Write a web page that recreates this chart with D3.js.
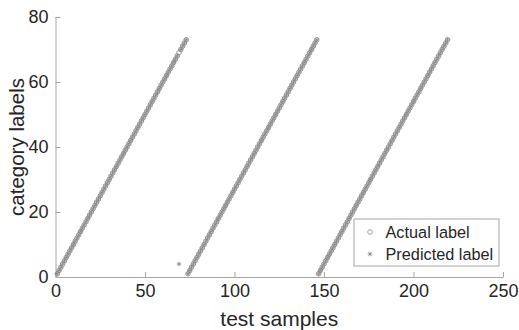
<!DOCTYPE html>
<html>
<head>
<meta charset="utf-8">
<script src="https://cdn.jsdelivr.net/npm/d3@7"></script>
<style>
  body { margin: 0; background: #fff; }
  text { font-family: "Liberation Sans", Arial, sans-serif; fill: #262626; }
</style>
</head>
<body>
<div id="chart"></div>
<script>
// actual class label of each test sample (sample number = position + 1)
const actualLabels = [
  1,2,3,4,5,6,7,8,9,10,11,12,13,14,15,16,17,18,19,20,21,22,23,24,25,26,27,28,29,30,31,32,33,34,35,36,37,
  38,39,40,41,42,43,44,45,46,47,48,49,50,51,52,53,54,55,56,57,58,59,60,61,62,63,64,65,66,67,68,69,70,71,72,73,
  1,2,3,4,5,6,7,8,9,10,11,12,13,14,15,16,17,18,19,20,21,22,23,24,25,26,27,28,29,30,31,32,33,34,35,36,37,
  38,39,40,41,42,43,44,45,46,47,48,49,50,51,52,53,54,55,56,57,58,59,60,61,62,63,64,65,66,67,68,69,70,71,72,73,
  1,2,3,4,5,6,7,8,9,10,11,12,13,14,15,16,17,18,19,20,21,22,23,24,25,26,27,28,29,30,31,32,33,34,35,36,37,
  38,39,40,41,42,43,44,45,46,47,48,49,50,51,52,53,54,55,56,57,58,59,60,61,62,63,64,65,66,67,68,69,70,71,72,73
];
// predicted labels (sample 69 is misclassified as 4)
const predictedLabels = [
  1,2,3,4,5,6,7,8,9,10,11,12,13,14,15,16,17,18,19,20,21,22,23,24,25,26,27,28,29,30,31,32,33,34,35,36,37,
  38,39,40,41,42,43,44,45,46,47,48,49,50,51,52,53,54,55,56,57,58,59,60,61,62,63,64,65,66,67,68,4,70,71,72,73,
  1,2,3,4,5,6,7,8,9,10,11,12,13,14,15,16,17,18,19,20,21,22,23,24,25,26,27,28,29,30,31,32,33,34,35,36,37,
  38,39,40,41,42,43,44,45,46,47,48,49,50,51,52,53,54,55,56,57,58,59,60,61,62,63,64,65,66,67,68,69,70,71,72,73,
  1,2,3,4,5,6,7,8,9,10,11,12,13,14,15,16,17,18,19,20,21,22,23,24,25,26,27,28,29,30,31,32,33,34,35,36,37,
  38,39,40,41,42,43,44,45,46,47,48,49,50,51,52,53,54,55,56,57,58,59,60,61,62,63,64,65,66,67,68,69,70,71,72,73
];
const xTicks = [0, 50, 100, 150, 200, 250];
const yTicks = [0, 20, 40, 60, 80];
const legendNames = ["Actual label", "Predicted label"];

const width = 519, height = 330;
const margin = { top: 17, right: 16, bottom: 53, left: 55.5 };

const svg = d3.select("#chart")
  .append("svg")
  .attr("width", width)
  .attr("height", height);

const x = d3.scaleLinear().domain([0, 250]).range([margin.left, width - margin.right]);
const y = d3.scaleLinear().domain([0, 80]).range([height - margin.bottom, margin.top]);

const axisColor = "#a6a6a6";
const markColor = "#888";

// x axis, ticks pointing inward
const gx = svg.append("g")
  .attr("transform", `translate(0,${y(0)})`)
  .call(d3.axisBottom(x).tickValues(xTicks).tickSizeInner(-5).tickSizeOuter(0).tickPadding(7));
gx.select(".domain").attr("stroke", axisColor);
gx.selectAll(".tick line").attr("stroke", axisColor);
gx.selectAll(".tick text").attr("font-size", 18).attr("fill", "#262626");

// y axis
const gy = svg.append("g")
  .attr("transform", `translate(${x(0)},0)`)
  .call(d3.axisLeft(y).tickValues(yTicks).tickSizeInner(-5).tickSizeOuter(0).tickPadding(7));
gy.select(".domain").attr("stroke", axisColor);
gy.selectAll(".tick line").attr("stroke", axisColor);
gy.selectAll(".tick text").attr("font-size", 18).attr("fill", "#262626");

// axis titles
svg.append("text")
  .attr("x", (x(0) + x(250)) / 2)
  .attr("y", 325.5)
  .attr("text-anchor", "middle")
  .attr("font-size", 21)
  .text("test samples");

svg.append("text")
  .attr("transform", `translate(24,${(y(0) + y(80)) / 2}) rotate(-90)`)
  .attr("text-anchor", "middle")
  .attr("font-size", 20.5)
  .text("category labels");

const starPath = "M-2.3,0H2.3M0,-2.3V2.3M-1.6,-1.6L1.6,1.6M-1.6,1.6L1.6,-1.6";

// actual labels: open circles
svg.append("g")
  .selectAll("circle")
  .data(actualLabels)
  .enter()
  .append("circle")
  .attr("cx", (d, i) => x(i + 1))
  .attr("cy", (d) => y(d))
  .attr("r", 2.3)
  .attr("fill", "none")
  .attr("stroke", markColor)
  .attr("stroke-width", 0.8);

// predicted labels: stars
svg.append("g")
  .selectAll("path")
  .data(predictedLabels)
  .enter()
  .append("path")
  .attr("transform", (d, i) => `translate(${x(i + 1)},${y(d)})`)
  .attr("d", starPath)
  .attr("fill", "none")
  .attr("stroke", markColor)
  .attr("stroke-width", 0.8);

// legend
const legend = svg.append("g").attr("transform", "translate(354,219)");
legend.append("rect")
  .attr("width", 145)
  .attr("height", 47)
  .attr("fill", "#fff")
  .attr("stroke", axisColor);
legend.append("circle")
  .attr("cx", 16).attr("cy", 13).attr("r", 2.3)
  .attr("fill", "none").attr("stroke", markColor).attr("stroke-width", 0.8);
legend.append("path")
  .attr("transform", "translate(16,35)")
  .attr("d", starPath)
  .attr("fill", "none").attr("stroke", markColor).attr("stroke-width", 0.8);
legend.selectAll("text.lg")
  .data(legendNames)
  .enter()
  .append("text")
  .attr("class", "lg")
  .attr("x", 31.5)
  .attr("y", (d, i) => 19 + i * 22)
  .attr("font-size", 16.3)
  .text((d) => d);
</script>
</body>
</html>
